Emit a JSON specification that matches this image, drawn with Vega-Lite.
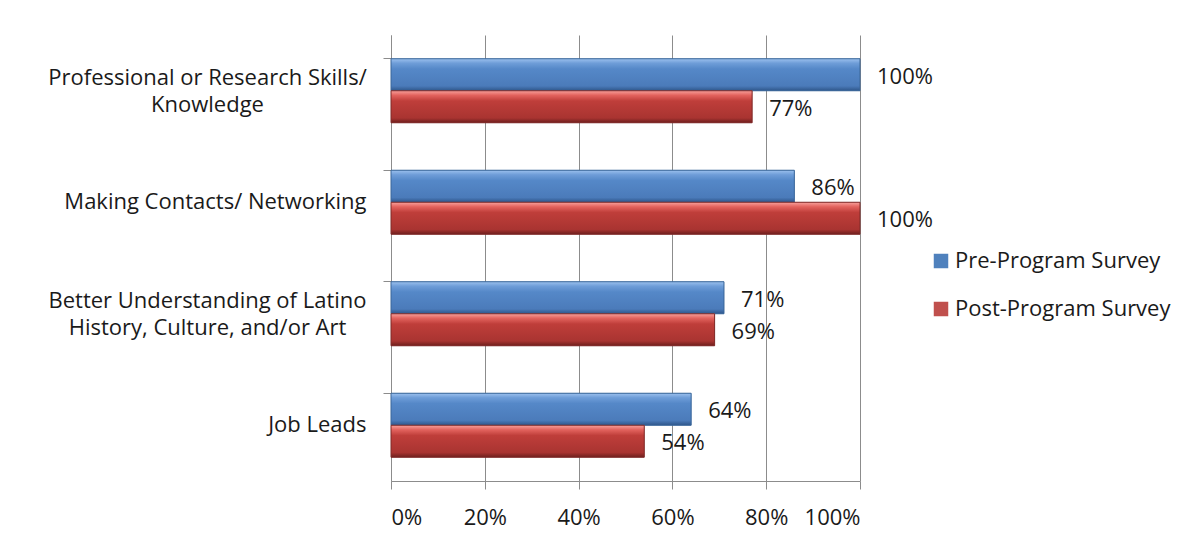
{
  "$schema": "https://vega.github.io/schema/vega-lite/v6.json",
  "autosize": "none",
  "width": 469,
  "height": 446,
  "padding": {"left": 391, "top": 35, "right": 334, "bottom": 76},
  "background": "white",
  "config": {
    "font": "Open Sans",
    "view": {"stroke": null},
    "axis": {"labelFont": "Open Sans", "labelFontSize": 22, "labelColor": "#1a1a1a", "domainColor": "#8c8c8c", "tickColor": "#8c8c8c", "gridColor": "#8c8c8c", "title": null},
    "legend": {"labelFont": "Open Sans", "labelFontSize": 22, "labelColor": "#1a1a1a"}
  },
  "data": {
    "values": [
      {"category": "Professional or Research Skills/ Knowledge", "series": "Pre-Program Survey", "value": 1.00},
      {"category": "Professional or Research Skills/ Knowledge", "series": "Post-Program Survey", "value": 0.77},
      {"category": "Making Contacts/ Networking", "series": "Pre-Program Survey", "value": 0.86},
      {"category": "Making Contacts/ Networking", "series": "Post-Program Survey", "value": 1.00},
      {"category": "Better Understanding of Latino History, Culture, and/or Art", "series": "Pre-Program Survey", "value": 0.71},
      {"category": "Better Understanding of Latino History, Culture, and/or Art", "series": "Post-Program Survey", "value": 0.69},
      {"category": "Job Leads", "series": "Pre-Program Survey", "value": 0.64},
      {"category": "Job Leads", "series": "Post-Program Survey", "value": 0.54}
    ]
  },
  "encoding": {
    "y": {
      "field": "category", "type": "nominal", "sort": null,
      "scale": {"paddingInner": 0.426, "paddingOuter": 0.213},
      "axis": {
        "bandPosition": 0, "tickSize": 8, "domainColor": "#8c8c8c",
        "labelLineHeight": 27, "labelLimit": 400,
        "labelAlign": {"condition": {"test": "indexof(datum.label, 'Professional') >= 0 || indexof(datum.label, 'Better') >= 0", "value": "center"}, "value": "right"},
        "labelPadding": {"condition": {"test": "indexof(datum.label, 'Professional') >= 0 || indexof(datum.label, 'Better') >= 0", "value": 176}, "value": 17},
        "labelOffset": {"condition": {"test": "indexof(datum.label, 'Professional') >= 0 || indexof(datum.label, 'Better') >= 0", "value": -13}, "value": 0},
        "labelExpr": "datum.label == 'Professional or Research Skills/ Knowledge' ? ['Professional or Research Skills/', 'Knowledge'] : datum.label == 'Better Understanding of Latino History, Culture, and/or Art' ? ['Better Understanding of Latino', 'History, Culture, and/or Art'] : datum.label"
      }
    },
    "yOffset": {"field": "series", "type": "nominal", "sort": ["Pre-Program Survey", "Post-Program Survey"], "scale": {"paddingInner": 0, "paddingOuter": 0}},
    "x": {
      "field": "value", "type": "quantitative",
      "scale": {"domain": [0, 1], "nice": false},
      "axis": {"format": "%", "values": [0, 0.2, 0.4, 0.6, 0.8, 1], "tickSize": 8, "labelPadding": 18, "grid": true, "domain": true}
    }
  },
  "layer": [
    {
      "mark": {"type": "bar"},
      "encoding": {
        "color": {
          "field": "series", "type": "nominal",
          "scale": {"domain": ["Pre-Program Survey", "Post-Program Survey"], "range": ["#4F81BD", "#C0504D"]},
          "legend": {"orient": "none", "legendX": 539, "legendY": 215, "title": null, "symbolType": "square", "symbolSize": 210, "symbolStrokeWidth": 0, "labelOffset": 3, "rowPadding": 26, "padding": 0, "labelLimit": 300}
        }
      }
    },
    {
      "mark": {"type": "bar", "strokeWidth": 1},
      "encoding": {
        "fill": {
          "condition": {
            "test": "datum.series == 'Pre-Program Survey'",
            "value": {"gradient": "linear", "x1": 0, "y1": 0, "x2": 0, "y2": 1, "stops": [
              {"offset": 0, "color": "#9CC1EE"}, {"offset": 0.14, "color": "#6E9DD8"}, {"offset": 0.32, "color": "#5588C8"}, {"offset": 0.85, "color": "#4B7BBA"}, {"offset": 1, "color": "#2E568A"}]}
          },
          "value": {"gradient": "linear", "x1": 0, "y1": 0, "x2": 0, "y2": 1, "stops": [
            {"offset": 0, "color": "#F8A19C"}, {"offset": 0.14, "color": "#E3635E"}, {"offset": 0.32, "color": "#BF3E3A"}, {"offset": 0.85, "color": "#A93431"}, {"offset": 1, "color": "#6E1F1D"}]}
        },
        "stroke": {
          "condition": {"test": "datum.series == 'Pre-Program Survey'", "value": "#3A6699"},
          "value": "#7E2A28"
        }
      }
    },
    {
      "mark": {"type": "text", "align": "left", "baseline": "middle", "dx": 17, "dy": 2, "fontSize": 22, "color": "#1a1a1a"},
      "encoding": {
        "text": {"field": "value", "type": "quantitative", "format": ".0%"}
      }
    }
  ]
}
